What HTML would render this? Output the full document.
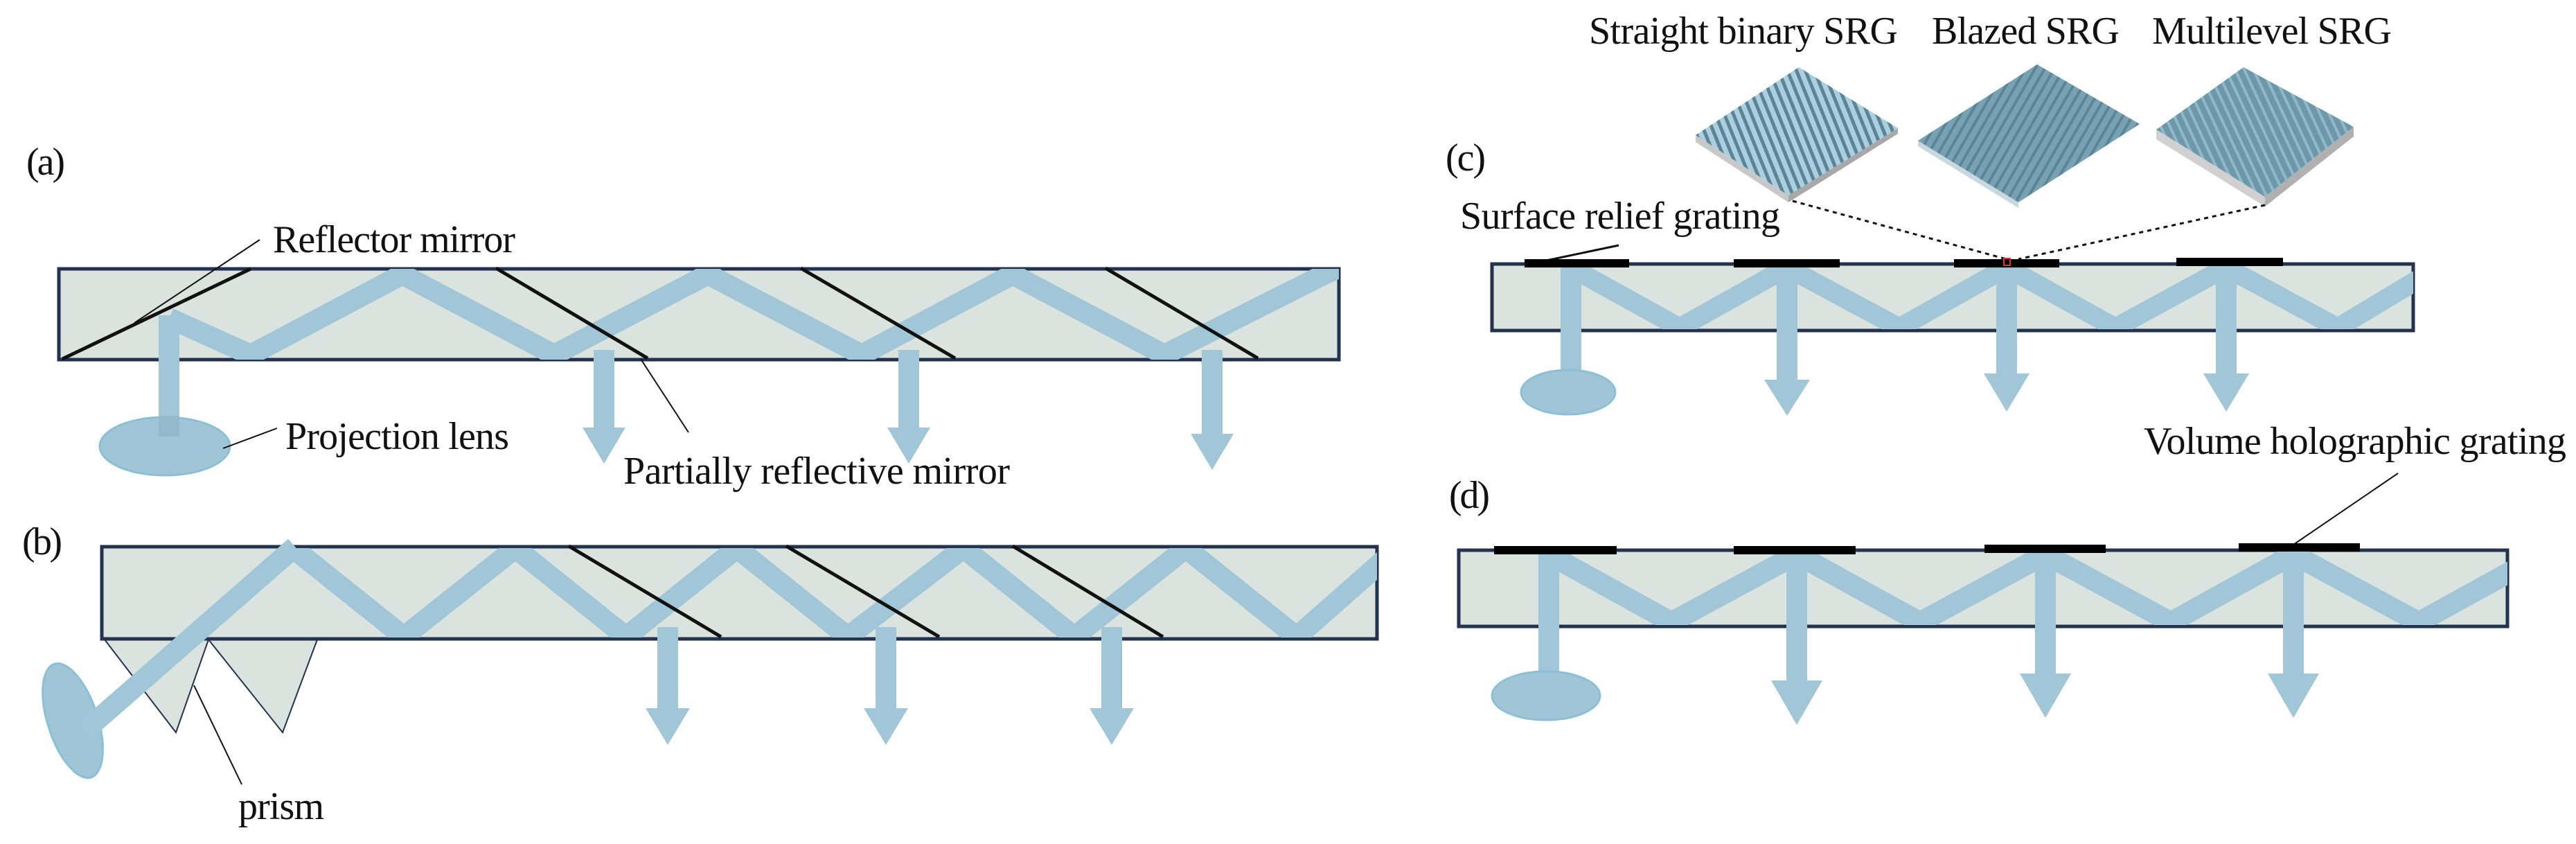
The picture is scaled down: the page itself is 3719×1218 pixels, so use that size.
<!DOCTYPE html>
<html><head><meta charset="utf-8"><style>
html,body{margin:0;padding:0;background:#fff;}
svg{display:block;}
text{font-family:"Liberation Serif",serif;font-size:56px;fill:#111;}
</style></head><body>
<svg width="3719" height="1218" viewBox="0 0 3719 1218" xmlns="http://www.w3.org/2000/svg">
<defs>
<clipPath id="ca"><rect x="85" y="388" width="1848" height="131"/></clipPath>
<clipPath id="cb"><rect x="147" y="791" width="1841" height="129"/></clipPath>
<clipPath id="cc"><rect x="2154" y="383" width="1330" height="92"/></clipPath>
<clipPath id="cd"><rect x="2106" y="796" width="1514" height="106"/></clipPath>
<pattern id="p1" width="12" height="12" patternUnits="userSpaceOnUse" patternTransform="rotate(-22)">
<rect width="12" height="12" fill="#a9cfe0"/><rect width="5" height="12" fill="#5d8494"/></pattern>
<pattern id="p2" width="12" height="12" patternUnits="userSpaceOnUse" patternTransform="rotate(30)">
<rect width="12" height="12" fill="#78a2b3"/><rect width="4" height="12" fill="#5a8596"/></pattern>
<pattern id="p3" width="12" height="12" patternUnits="userSpaceOnUse" patternTransform="rotate(-25)">
<rect width="12" height="12" fill="#6d98aa"/><rect width="4" height="12" fill="#8fb9cb"/></pattern>
</defs>

<!-- ===== (a) ===== -->
<text x="38" y="252" textLength="56">(a)</text>
<rect x="85" y="388" width="1848" height="131" fill="#dbe3df" stroke="#22324f" stroke-width="5"/>
<g clip-path="url(#ca)" fill="none" stroke="#a0c6d7" stroke-width="30" stroke-linejoin="miter">
<polyline points="244,459 362,512 581,396 800,512 1022,396 1244,512 1462,396 1681,512 1912,396 1990,360"/>
</g>
<rect x="229" y="455" width="30" height="190" fill="#a0c6d7"/>
<ellipse cx="238" cy="644" rx="94" ry="42" fill="#9fc5d6" stroke="#8bbfd8" stroke-width="3"/>
<rect x="229" y="600" width="30" height="30" fill="#93b9ca"/>
<g fill="#a0c6d7">
<rect x="857" y="505" width="30" height="114"/><polygon points="841,617 903,617 872,669"/>
<rect x="1297" y="505" width="30" height="114"/><polygon points="1281,617 1343,617 1312,669"/>
<rect x="1735" y="505" width="30" height="123"/><polygon points="1719,626 1781,626 1750,678"/>
</g>
<g stroke="#111" stroke-width="5">
<line x1="90" y1="518" x2="362" y2="388"/>
<line x1="716" y1="387" x2="935" y2="517"/>
<line x1="1156" y1="387" x2="1379" y2="517"/>
<line x1="1596" y1="387" x2="1816" y2="517"/>
</g>
<g stroke="#111" stroke-width="2">
<line x1="375" y1="346" x2="194" y2="466"/>
<line x1="925" y1="518" x2="994" y2="624"/>
<line x1="322" y1="647" x2="400" y2="618"/>
</g>
<text x="394" y="364" textLength="350">Reflector mirror</text>
<text x="412" y="648" textLength="323">Projection lens</text>
<text x="900" y="698" textLength="558">Partially reflective mirror</text>

<!-- ===== (b) ===== -->
<text x="32" y="800" textLength="58">(b)</text>
<polygon points="151,923 301,923 254,1057" fill="#dbe3df" stroke="#22324f" stroke-width="2"/>
<polygon points="301,923 458,923 408,1057" fill="#dbe3df" stroke="#22324f" stroke-width="2"/>
<rect x="147" y="789" width="1841" height="133" fill="#dbe3df" stroke="#22324f" stroke-width="5"/>
<g clip-path="url(#cb)" fill="none" stroke="#a0c6d7" stroke-width="30" stroke-linejoin="miter">
<polyline points="423,791 583,919 744,791 904,919 1064,791 1224,919 1391,791 1551,919 1712,791 1872,919 2030,780"/>
</g>
<ellipse cx="105" cy="1040" rx="36" ry="86" transform="rotate(-18 105 1040)" fill="#9fc5d6" stroke="#8bbfd8" stroke-width="3"/>
<line x1="122" y1="1055" x2="426" y2="789" stroke="#a0c6d7" stroke-width="30"/>
<g fill="#a0c6d7">
<rect x="949" y="905" width="30" height="119"/><polygon points="932,1022 996,1022 964,1075"/>
<rect x="1264" y="905" width="30" height="119"/><polygon points="1247,1022 1311,1022 1279,1075"/>
<rect x="1590" y="905" width="30" height="119"/><polygon points="1573,1022 1637,1022 1605,1075"/>
</g>
<g stroke="#111" stroke-width="5">
<line x1="821" y1="788" x2="1041" y2="919"/>
<line x1="1135" y1="788" x2="1356" y2="919"/>
<line x1="1462" y1="788" x2="1679" y2="919"/>
</g>
<line x1="280" y1="989" x2="349" y2="1132" stroke="#111" stroke-width="2"/>
<text x="344" y="1182" textLength="124">prism</text>

<!-- ===== (c) ===== -->
<text x="2294" y="63" textLength="446">Straight binary SRG</text>
<text x="2789" y="63" textLength="271">Blazed SRG</text>
<text x="3107" y="63" textLength="346">Multilevel SRG</text>
<polygon points="2448,195 2582,282 2582,292 2448,205" fill="#c8c8c8"/>
<polygon points="2582,282 2740,185 2740,193 2582,292" fill="#a8a8a8"/>
<polygon points="2597,97 2448,195 2582,282 2740,185" fill="url(#p1)"/>
<polygon points="2769,203 2914,292 2914,300 2769,211" fill="#c8d8de"/>
<polygon points="2941,93 2769,203 2914,292 3089,179" fill="url(#p2)"/>
<polygon points="3113,187 3270,284 3270,298 3113,201" fill="#d0d0d0"/>
<polygon points="3270,284 3398,183 3398,197 3270,298" fill="#b0b0b0"/>
<polygon points="3239,97 3113,187 3270,284 3398,183" fill="url(#p3)"/>
<text x="2087" y="246" textLength="58">(c)</text>
<text x="2108" y="330" textLength="462">Surface relief grating</text>
<line x1="2337" y1="354" x2="2232" y2="376" stroke="#111" stroke-width="3"/>
<g stroke="#111" stroke-width="3" stroke-dasharray="6,6">
<line x1="2588" y1="290" x2="2897" y2="374"/>
<line x1="3270" y1="296" x2="2914" y2="374"/>
</g>
<rect x="2154" y="381" width="1330" height="96" fill="#dbe3df" stroke="#22324f" stroke-width="5"/>
<g clip-path="url(#cc)" fill="none" stroke="#a0c6d7" stroke-width="28" stroke-linejoin="miter">
<polyline points="2268,386 2425,473 2580,386 2742,473 2897,386 3054,473 3214,386 3375,473 3530,380"/>
</g>
<rect x="2253" y="381" width="30" height="190" fill="#a0c6d7"/>
<ellipse cx="2264" cy="566" rx="68" ry="32" fill="#9fc5d6" stroke="#8bbfd8" stroke-width="3"/>
<g fill="#a0c6d7">
<rect x="2565" y="381" width="30" height="169"/><polygon points="2547,548 2613,548 2580,600"/>
<rect x="2882" y="381" width="30" height="160"/><polygon points="2864,539 2930,539 2897,594"/>
<rect x="3199" y="381" width="30" height="160"/><polygon points="3181,539 3247,539 3214,594"/>
</g>
<g fill="#000">
<rect x="2201" y="374" width="151" height="12"/>
<rect x="2503" y="374" width="153" height="12"/>
<rect x="2821" y="374" width="152" height="12"/>
<rect x="3142" y="372" width="154" height="12"/>
</g>
<rect x="2893" y="373" width="9" height="10" fill="none" stroke="#e03030" stroke-width="2"/>

<!-- ===== (d) ===== -->
<text x="3095" y="655" textLength="610">Volume holographic grating</text>
<text x="2092" y="733" textLength="59">(d)</text>
<rect x="2106" y="794" width="1514" height="110" fill="#dbe3df" stroke="#22324f" stroke-width="5"/>
<g clip-path="url(#cd)" fill="none" stroke="#a0c6d7" stroke-width="30" stroke-linejoin="miter">
<polyline points="2236,800 2413,898 2594,800 2772,898 2953,800 3134,898 3311,800 3492,898 3670,800"/>
</g>
<rect x="2221" y="794" width="30" height="210" fill="#a0c6d7"/>
<ellipse cx="2232" cy="1004" rx="78" ry="35" fill="#9fc5d6" stroke="#8bbfd8" stroke-width="3"/>
<g fill="#a0c6d7">
<rect x="2579" y="794" width="30" height="190"/><polygon points="2557,982 2631,982 2594,1046"/>
<rect x="2938" y="794" width="30" height="180"/><polygon points="2916,972 2990,972 2953,1036"/>
<rect x="3296" y="794" width="30" height="180"/><polygon points="3274,972 3348,972 3311,1036"/>
</g>
<g fill="#000">
<rect x="2157" y="788" width="177" height="12"/>
<rect x="2503" y="788" width="176" height="12"/>
<rect x="2865" y="786" width="175" height="12"/>
<rect x="3232" y="784" width="175" height="12"/>
</g>
<line x1="3462" y1="683" x2="3311" y2="786" stroke="#111" stroke-width="2"/>
</svg>
</body></html>
